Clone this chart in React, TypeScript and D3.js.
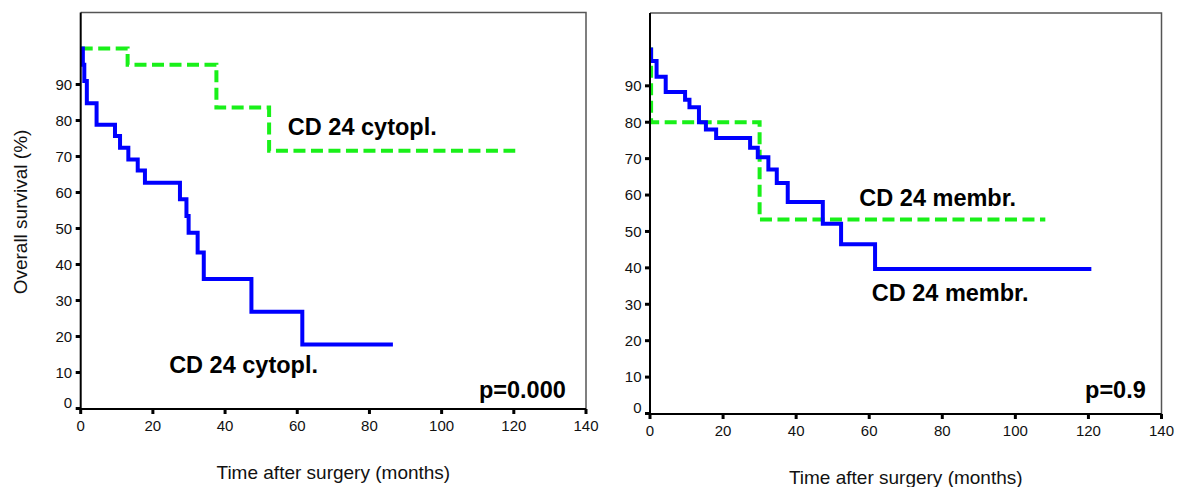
import React, { Component } from "react";
import * as d3 from "d3";

// ticks
var xTicks = [0, 20, 40, 60, 80, 100, 120, 140];
var yTicks = [0, 10, 20, 30, 40, 50, 60, 70, 80, 90];

// left panel: CD 24 cytoplasmic, [months, survival %], last point = end of follow-up
var cytoplNeg = [
  [0, 100], [13, 95.5], [37.6, 83.6], [52.2, 71.6], [120.4, 71.6]
];
var cytoplPos = [
  [0, 100], [0.6, 95.5], [1, 91], [1.7, 84.8], [4.4, 78.8], [9.5, 75.7],
  [10.9, 72.4], [13.2, 69.2], [15.8, 66.1], [17.8, 62.7], [27.5, 58.1],
  [29.3, 53.5], [29.9, 48.8], [32.4, 43.3], [34.1, 36.0], [47.3, 26.9],
  [61.4, 17.8], [86.5, 17.8]
];

// right panel: CD 24 membranous
var membrNeg = [
  [0, 100], [0.3, 80], [30, 53.3], [108.2, 53.3]
];
var membrPos = [
  [0, 100], [0.3, 96.8], [1.8, 92.5], [4.3, 88.3], [9.6, 86.2], [10.8, 84.1],
  [13.4, 80.0], [15.3, 78.0], [18.1, 75.7], [27.4, 73.0], [29.5, 70.4],
  [32.4, 67.0], [34.7, 63.3], [37.7, 58.1], [47.3, 52.1], [52.3, 46.5],
  [61.6, 39.7], [120.8, 39.7]
];

var GREEN = "#19f019";
var BLUE = "#0000ff";
var FONT = "'Liberation Sans', Arial, Helvetica, sans-serif";

var panels = [
  {
    left: 80.7, right: 586, bottom: 408.5, top: 12.5,
    yTitle: "Overall survival (%)",
    green: cytoplNeg, blue: cytoplPos,
    labels: [
      { text: "CD 24 cytopl.", t: 57.4, v: 76.0, anchor: "start" },
      { text: "CD 24 cytopl.", t: 24.5, v: 9.8, anchor: "start" },
      { text: "p=0.000", t: 134.4, v: 2.8, anchor: "end" }
    ]
  },
  {
    left: 650, right: 1161.5, bottom: 413.5, top: 13,
    yTitle: null,
    green: membrNeg, blue: membrPos,
    labels: [
      { text: "CD 24 membr.", t: 57.3, v: 57.0, anchor: "start" },
      { text: "CD 24 membr.", t: 60.7, v: 30.9, anchor: "start" },
      { text: "p=0.9", t: 135.7, v: 4.2, anchor: "end" }
    ]
  }
];

class App extends Component {
  svgRef = React.createRef<SVGSVGElement>();

  componentDidMount() {
    this._draw();
  }

  _draw() {
    var svg = d3.select(this.svgRef.current);
    svg.selectAll("*").remove();

    panels.forEach(p => {
      var x = d3.scaleLinear().domain([0, 140]).range([p.left, p.right]);
      var y = d3.scaleLinear().domain([0, 110]).range([p.bottom, p.top]);
      var g = svg.append("g");
      var axisY = y(0) + 0.5;

      // grey frame top / right
      g.append("path")
        .attr("d", `M${x(0)},${y(110)}H${x(140)}V${axisY}`)
        .attr("fill", "none")
        .attr("stroke", "#555")
        .attr("stroke-width", 1.5);

      // curves
      var line = d3
        .line()
        .x(d => x(d[0]))
        .y(d => y(d[1]))
        .curve(d3.curveStepAfter);

      g.append("path")
        .attr("d", line(p.green))
        .attr("fill", "none")
        .attr("stroke", GREEN)
        .attr("stroke-width", 4)
        .attr("stroke-dasharray", "12,5.5");

      g.append("path")
        .attr("d", line(p.blue))
        .attr("fill", "none")
        .attr("stroke", BLUE)
        .attr("stroke-width", 4);

      // axes
      g.append("line")
        .attr("x1", x(0)).attr("x2", x(0))
        .attr("y1", y(110)).attr("y2", axisY + 1)
        .attr("stroke", "#000").attr("stroke-width", 2);
      g.append("line")
        .attr("x1", x(0) - 4).attr("x2", x(140))
        .attr("y1", axisY).attr("y2", axisY)
        .attr("stroke", "#000").attr("stroke-width", 2);

      g.selectAll("line.ytick")
        .data(yTicks)
        .enter()
        .append("line")
        .attr("x1", x(0) - 5).attr("x2", x(0))
        .attr("y1", d => y(d)).attr("y2", d => y(d))
        .attr("stroke", "#000").attr("stroke-width", 3);

      g.selectAll("text.ylab")
        .data(yTicks)
        .enter()
        .append("text")
        .attr("x", x(0) - 8.5)
        .attr("y", d => (d === 0 ? y(d) - 6 : y(d)))
        .attr("dy", "0.36em")
        .attr("text-anchor", "end")
        .attr("font-family", FONT)
        .attr("font-size", 15)
        .attr("fill", "#111")
        .text(d => d);

      g.selectAll("line.xtick")
        .data(xTicks)
        .enter()
        .append("line")
        .attr("x1", d => x(d)).attr("x2", d => x(d))
        .attr("y1", axisY).attr("y2", axisY + 5)
        .attr("stroke", "#000").attr("stroke-width", 3);

      g.selectAll("text.xlab")
        .data(xTicks)
        .enter()
        .append("text")
        .attr("x", d => x(d))
        .attr("y", axisY + 16.5)
        .attr("dy", "0.36em")
        .attr("text-anchor", "middle")
        .attr("font-family", FONT)
        .attr("font-size", 15)
        .attr("fill", "#111")
        .text(d => d);

      g.append("text")
        .attr("x", (x(0) + x(140)) / 2)
        .attr("y", axisY + 63.5)
        .attr("dy", "0.36em")
        .attr("text-anchor", "middle")
        .attr("font-family", FONT)
        .attr("font-size", 19)
        .attr("fill", "#111")
        .text("Time after surgery (months)");

      if (p.yTitle) {
        g.append("text")
          .attr("transform", "translate(20,212) rotate(-90)")
          .attr("dy", "0.36em")
          .attr("text-anchor", "middle")
          .attr("font-family", FONT)
          .attr("font-size", 19)
          .attr("fill", "#111")
          .text(p.yTitle);
      }

      g.selectAll("text.note")
        .data(p.labels)
        .enter()
        .append("text")
        .attr("x", d => x(d.t))
        .attr("y", d => y(d.v))
        .attr("text-anchor", d => d.anchor)
        .attr("font-family", FONT)
        .attr("font-size", 23.5)
        .attr("font-weight", "bold")
        .attr("fill", "#000")
        .text(d => d.text);
    });
  }

  render() {
    return (
      <svg
        ref={this.svgRef}
        width={1181}
        height={487}
        style={{ position: "absolute", left: 0, top: 0, background: "#fff" }}
      />
    );
  }
}

export default App;
